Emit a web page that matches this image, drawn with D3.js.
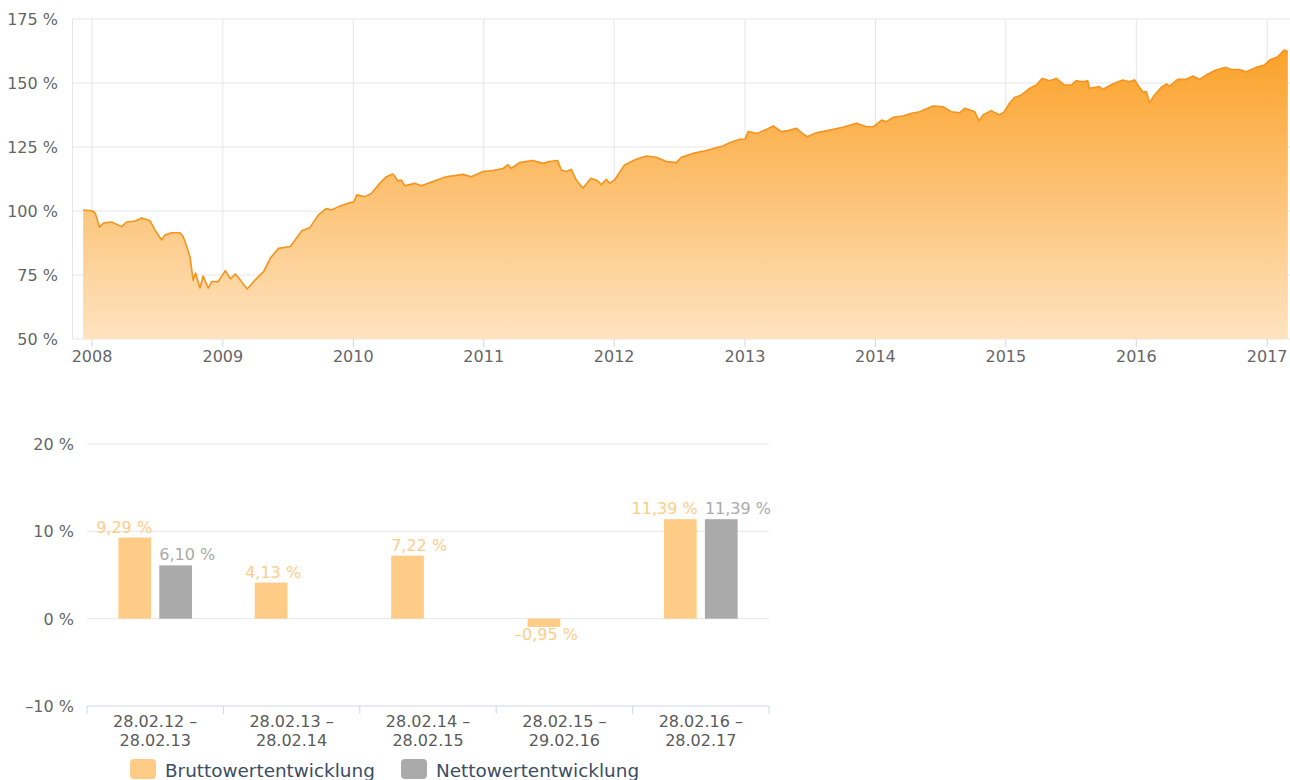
<!DOCTYPE html>
<html>
<head>
<meta charset="utf-8">
<script src="https://cdn.jsdelivr.net/npm/d3@7"></script>
<style>
  html, body { margin: 0; padding: 0; background: #ffffff; }
  svg { display: block; font-family: "DejaVu Sans", "Noto Sans", sans-serif; }
</style>
</head>
<body>
<svg id="chart" width="1290" height="780"></svg>
<script>
// ---------- DATA: top chart (Wertentwicklung, %) ----------
const lineDates = [
  "2007-12-07","2008-01-01","2008-01-10","2008-01-22","2008-02-02","2008-02-25","2008-03-24","2008-04-07",
  "2008-05-01","2008-05-19","2008-06-11","2008-06-25","2008-07-14","2008-07-23","2008-08-11","2008-09-03",
  "2008-09-12","2008-09-22","2008-10-01","2008-10-10","2008-10-17","2008-10-29","2008-11-07","2008-11-21",
  "2008-12-01","2008-12-19","2009-01-08","2009-01-22","2009-02-05","2009-02-19","2009-03-10","2009-03-28",
  "2009-04-25","2009-05-14","2009-06-06","2009-07-09","2009-08-10","2009-09-02","2009-09-25","2009-10-18",
  "2009-11-01","2009-11-24","2009-12-17","2010-01-03","2010-01-11","2010-02-03","2010-02-21","2010-03-16",
  "2010-04-04","2010-04-22","2010-05-06","2010-05-16","2010-05-25","2010-06-22","2010-07-10","2010-08-12",
  "2010-09-18","2010-11-04","2010-11-27","2010-12-30","2011-01-27","2011-02-24","2011-03-10","2011-03-19",
  "2011-04-11","2011-05-18","2011-06-15","2011-07-04","2011-07-27","2011-08-06","2011-08-20","2011-09-03",
  "2011-09-17","2011-10-05","2011-10-28","2011-11-16","2011-11-26","2011-12-10","2011-12-19","2012-01-02",
  "2012-01-30","2012-03-03","2012-03-31","2012-04-28","2012-05-26","2012-06-23","2012-07-07","2012-08-08",
  "2012-09-15","2012-10-31","2012-11-19","2012-12-17","2013-01-01","2013-01-10","2013-02-03","2013-02-26",
  "2013-03-21","2013-04-13","2013-05-02","2013-05-25","2013-06-08","2013-06-24","2013-07-20","2013-08-26",
  "2013-10-02","2013-11-09","2013-12-07","2013-12-26","2014-01-18","2014-02-01","2014-02-19","2014-03-19",
  "2014-04-12","2014-05-05","2014-06-11","2014-07-09","2014-08-01","2014-08-25","2014-09-08","2014-10-06",
  "2014-10-18","2014-10-29","2014-11-21","2014-12-14","2014-12-28","2015-01-11","2015-01-25","2015-02-13",
  "2015-03-08","2015-03-27","2015-04-13","2015-05-03","2015-05-22","2015-06-14","2015-07-03","2015-07-17",
  "2015-08-04","2015-08-18","2015-08-23","2015-09-20","2015-09-29","2015-10-27","2015-11-24","2015-12-13",
  "2015-12-27","2016-01-05","2016-01-19","2016-01-29","2016-02-07","2016-02-21","2016-03-11","2016-03-25",
  "2016-04-03","2016-04-26","2016-05-19","2016-06-07","2016-06-26","2016-07-14","2016-08-11","2016-09-08",
  "2016-09-22","2016-10-15","2016-11-03","2016-12-01","2016-12-24","2017-01-08","2017-01-31","2017-02-18",
  "2017-02-28"
];
const lineValues = [
  100.4,100.1,99.2,93.7,95.3,95.7,93.9,95.7,
  96.1,97.3,96.2,92.6,88.7,90.6,91.5,91.5,
  90.0,86.1,82.2,73.0,75.8,69.9,74.6,69.9,
  72.4,72.4,76.7,73.5,75.4,73.0,69.5,72.4,
  76.3,81.6,85.4,86.1,92.3,93.6,98.4,101.0,
  100.4,101.9,103.0,103.6,106.3,105.6,106.9,110.8,
  113.4,114.5,111.8,112.1,109.9,110.8,109.9,111.5,
  113.4,114.3,113.4,115.4,115.8,116.6,118.1,116.6,
  118.9,119.7,118.6,119.3,119.7,116.0,115.4,116.3,
  112.1,108.9,112.8,111.8,110.2,112.4,110.8,112.1,
  118.0,120.2,121.5,121.0,119.3,118.9,121.0,122.5,
  123.6,125.4,126.7,128.0,128.0,131.0,130.3,131.6,
  133.2,131.0,131.4,132.3,130.6,129.0,130.6,131.6,
  132.7,134.3,132.9,132.9,135.5,134.9,136.6,137.1,
  138.2,138.8,141.0,140.7,138.8,138.4,140.1,138.8,
  135.2,137.5,139.2,137.5,138.8,142.1,144.3,145.3,
  147.9,149.2,151.8,150.9,151.8,149.2,149.2,150.9,
  150.5,150.9,147.9,148.6,147.5,149.6,151.2,150.5,
  151.2,149.2,146.6,146.6,142.3,145.3,148.3,149.6,
  148.8,151.4,151.4,152.7,151.4,153.1,155.1,156.1,
  155.3,155.3,154.4,156.1,157.0,159.0,160.3,162.9,
  162.2
];
const topYTicks = [50, 75, 100, 125, 150, 175];
const topXTickYears = [2008, 2009, 2010, 2011, 2012, 2013, 2014, 2015, 2016, 2017];

// ---------- DATA: bottom chart (yearly performance, %) ----------
const periods = [
  ["28.02.12 –", "28.02.13"],
  ["28.02.13 –", "28.02.14"],
  ["28.02.14 –", "28.02.15"],
  ["28.02.15 –", "29.02.16"],
  ["28.02.16 –", "28.02.17"]
];
const seriesNames = ["Bruttowertentwicklung", "Nettowertentwicklung"];
const bruttoValues = [9.29, 4.13, 7.22, -0.95, 11.39];
const nettoValues = [6.10, null, null, null, 11.39];
const barYTicks = [-10, 0, 10, 20];

// ---------- helpers ----------
const fmtNum = v => (v < 0 ? "–" : "") + Math.abs(v).toFixed(2).replace(".", ",") + " %";
const fmtTick = v => (v < 0 ? "–" : "") + Math.abs(v) + " %";

const svg = d3.select("#chart");
const defs = svg.append("defs");

// ================= TOP CHART =================
const topBox = { left: 72, right: 1290, top: 19, bottom: 339 };
const parse = d3.timeParse("%Y-%m-%d");
const series = lineDates.map((d, i) => ({ date: parse(d), value: lineValues[i] }));

const x = d3.scaleTime()
  .domain([new Date(2007, 10, 6), new Date(2017, 2, 6)])
  .range([topBox.left, topBox.right]);
const y = d3.scaleLinear().domain([50, 175]).range([topBox.bottom, topBox.top]);

const gTop = svg.append("g");

// horizontal grid
gTop.append("g").selectAll("line").data(topYTicks).join("line")
  .attr("x1", topBox.left).attr("x2", topBox.right)
  .attr("y1", d => y(d)).attr("y2", d => y(d))
  .attr("stroke", "#e6e6e6").attr("stroke-width", 1);

// vertical grid
const yearDates = topXTickYears.map(yr => new Date(yr, 0, 1));
gTop.append("g").selectAll("line").data(yearDates).join("line")
  .attr("x1", d => x(d)).attr("x2", d => x(d))
  .attr("y1", topBox.top).attr("y2", topBox.bottom)
  .attr("stroke", "#e6e6e6").attr("stroke-width", 1);

// left border
gTop.append("line")
  .attr("x1", topBox.left + 0.5).attr("x2", topBox.left + 0.5)
  .attr("y1", topBox.top).attr("y2", topBox.bottom)
  .attr("stroke", "#e6e6e6");

// gradient
const grad = defs.append("linearGradient").attr("id", "areaGrad")
  .attr("x1", 0).attr("y1", 0).attr("x2", 0).attr("y2", 1);
grad.append("stop").attr("offset", "0%").attr("stop-color", "#fba22a");
grad.append("stop").attr("offset", "100%").attr("stop-color", "#fee3c0");

const area = d3.area()
  .x(d => x(d.date)).y0(y(50)).y1(d => y(d.value));
const line = d3.line()
  .x(d => x(d.date)).y(d => y(d.value));

gTop.append("path").datum(series)
  .attr("d", area).attr("fill", "url(#areaGrad)");
gTop.append("path").datum(series)
  .attr("d", line).attr("fill", "none")
  .attr("stroke", "#f6931c").attr("stroke-width", 1.6)
  .attr("stroke-linejoin", "round");

// x axis ticks + labels
gTop.append("g").selectAll("line").data(yearDates).join("line")
  .attr("x1", d => x(d)).attr("x2", d => x(d))
  .attr("y1", topBox.bottom).attr("y2", topBox.bottom + 8)
  .attr("stroke", "#ccd6eb");
gTop.append("g").selectAll("text").data(yearDates).join("text")
  .attr("x", d => x(d)).attr("y", 362)
  .attr("text-anchor", "middle")
  .attr("font-size", 16).attr("fill", "#666666")
  .text(d => d.getFullYear());

// y labels
gTop.append("g").selectAll("text").data(topYTicks).join("text")
  .attr("x", 58).attr("y", d => y(d) + 6)
  .attr("text-anchor", "end")
  .attr("font-size", 16).attr("fill", "#666666")
  .text(d => fmtTick(d));

// ================= BOTTOM CHART =================
const bot = { left: 87, right: 769, top: 444, bottom: 706 };
const xb = d3.scaleBand().domain(d3.range(periods.length)).range([bot.left, bot.right]).padding(0);
const yb = d3.scaleLinear().domain([-10, 20]).range([bot.bottom, bot.top]);

const gBot = svg.append("g");

gBot.append("g").selectAll("line").data(barYTicks.filter(t => t > -10)).join("line")
  .attr("x1", bot.left).attr("x2", bot.right)
  .attr("y1", d => yb(d)).attr("y2", d => yb(d))
  .attr("stroke", "#e6e6e6");

// axis line
gBot.append("line")
  .attr("x1", bot.left).attr("x2", bot.right)
  .attr("y1", yb(-10)).attr("y2", yb(-10))
  .attr("stroke", "#ccd6eb");
// category boundary ticks
const bounds = d3.range(periods.length + 1).map(i => bot.left + i * xb.bandwidth());
gBot.append("g").selectAll("line").data(bounds).join("line")
  .attr("x1", d => d).attr("x2", d => d)
  .attr("y1", yb(-10)).attr("y2", yb(-10) + 8)
  .attr("stroke", "#ccd6eb");

// y labels
gBot.append("g").selectAll("text").data(barYTicks).join("text")
  .attr("x", 74).attr("y", d => yb(d) + 6)
  .attr("text-anchor", "end")
  .attr("font-size", 16).attr("fill", "#666666")
  .text(d => fmtTick(d));

// category labels (two lines each)
const catG = gBot.append("g").selectAll("text").data(periods).join("text")
  .attr("text-anchor", "middle")
  .attr("font-size", 16).attr("fill", "#5a5a5a");
catG.each(function(lines, i) {
  const t = d3.select(this);
  const cx = xb(i) + xb.bandwidth() / 2;
  lines.forEach((ln, j) => {
    t.append("tspan").attr("x", cx).attr("y", 727 + j * 18.6).text(ln);
  });
});

// bars
const bw = xb.bandwidth();
const groupPad = 0.2, pointPad = 0.1;
const slot = bw * (1 - 2 * groupPad) / 2;
const barW = slot * (1 - 2 * pointPad);
const seriesColors = ["#ffcc88", "#aaaaaa"];
const allSeries = [bruttoValues, nettoValues];
const labelAlign = [["end", "middle", "start", "middle", "end"], ["start", "start", "start", "start", "start"]];

allSeries.forEach((vals, s) => {
  const data = vals.map((v, i) => ({ i, v })).filter(d => d.v !== null);
  const bx = d => xb(d.i) + bw * groupPad + s * slot + slot * pointPad;
  gBot.append("g").selectAll("rect").data(data).join("rect")
    .attr("x", bx)
    .attr("y", d => yb(Math.max(0, d.v)))
    .attr("width", barW)
    .attr("height", d => Math.abs(yb(d.v) - yb(0)))
    .attr("fill", seriesColors[s]);
  gBot.append("g").selectAll("text").data(data).join("text")
    .attr("x", d => {
      const a = labelAlign[s][d.i];
      if (a === "start") return bx(d);
      if (a === "end") return bx(d) + barW + 1;
      return bx(d) + barW / 2 + 2;
    })
    .attr("y", d => d.v >= 0 ? yb(d.v) - 5 : yb(d.v) + 13)
    .attr("text-anchor", d => labelAlign[s][d.i])
    .attr("font-size", 16)
    .attr("fill", seriesColors[s])
    .text(d => fmtNum(d.v));
});

// legend
const legendX = [130, 401];
const leg = svg.append("g");
seriesNames.forEach((name, s) => {
  leg.append("rect")
    .attr("x", legendX[s]).attr("y", 759)
    .attr("width", 26).attr("height", 20).attr("rx", 4)
    .attr("fill", seriesColors[s]);
  leg.append("text")
    .attr("x", legendX[s] + 35).attr("y", 777)
    .attr("font-size", 18.4).attr("fill", "#3b4d63")
    .text(name);
});
</script>
</body>
</html>
